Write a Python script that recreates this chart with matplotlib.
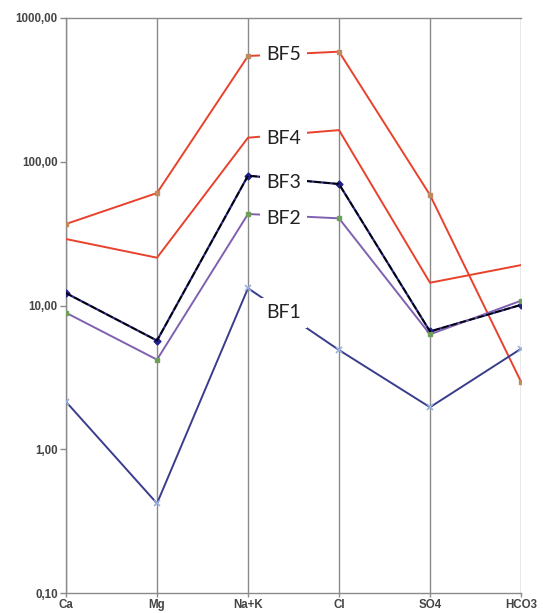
import matplotlib
matplotlib.use("Agg")
import matplotlib.pyplot as plt
from matplotlib.ticker import FixedLocator, FuncFormatter, NullLocator

# Ion concentrations (log scale) for the five samples
ions = ["Ca", "Mg", "Na+K", "Cl", "SO4", "HCO3"]
bf1 = [2.14, 0.42, 13.2, 4.9, 1.96, 5.0]
bf2 = [8.9, 4.2, 43.3, 40.4, 6.3, 10.8]
bf3 = [12.2, 5.7, 80.0, 70.0, 6.6, 10.1]
bf4 = [29.0, 21.5, 147.0, 166.0, 14.4, 19.1]
bf5 = [36.9, 60.6, 544.0, 583.0, 58.7, 2.95]
y_ticks = [0.1, 1, 10, 100, 1000]

# Series names and the height at which each name sits on the Na+K – Cl span
series_names = ["BF5", "BF4", "BF3", "BF2", "BF1"]
name_heights = [553, 146, 72, 40.6, 8.9]

x = list(range(len(ions)))

fig = plt.figure(figsize=(5.43, 6.13), dpi=100)
ax = fig.add_axes([66 / 543, 1 - 593 / 613, (521 - 66) / 543, (593 - 18) / 613])

grid_c = "#8a8a8a"
for xi in x:
    ax.axvline(xi, color=grid_c, lw=1.0, zorder=1)

red = "#e8422c"
ax.plot(x, bf5, color=red, lw=1.4, marker="s", ms=3.5, mfc="#c08a60", mec="#c08a60", zorder=3)
ax.plot(x, bf4, color=red, lw=1.4, zorder=3)
ax.plot(x, bf3, color="#2a2a80", lw=1.6, marker="D", ms=3.5, mfc="#20208a", mec="#20208a", zorder=3)
ax.plot(x, bf3, color="black", lw=1.2, ls=(0, (4, 1.5)), zorder=4)
ax.plot(x, bf2, color="#8060b0", lw=1.4, marker="s", ms=3, mfc="#70a058", mec="#70a058", zorder=3)
ax.plot(x, bf1, color="#3a3c8c", lw=1.4, marker="x", ms=4, mec="#9ab0dc", mew=1.2, zorder=3)

ax.set_yscale("log")
ax.set_ylim(0.1, 1000)
ax.set_xlim(0, len(ions) - 1)
ax.yaxis.set_major_locator(FixedLocator(y_ticks))
ax.yaxis.set_minor_locator(NullLocator())
ax.yaxis.set_major_formatter(FuncFormatter(lambda v, p: f"{v:.2f}".replace(".", ",")))
ax.set_xticks(x)
ax.set_xticklabels(ions)

for side in ["left", "bottom", "top"]:
    ax.spines[side].set_color(grid_c)
    ax.spines[side].set_linewidth(1.0)
ax.spines["right"].set_visible(False)

ax.tick_params(axis="y", length=4, width=1, color=grid_c, pad=2,
               labelsize=8.3, labelcolor="#444444")
ax.tick_params(axis="x", length=3, width=1, color=grid_c, pad=1,
               labelsize=8.3, labelcolor="#444444")
for lab in ax.get_xticklabels() + ax.get_yticklabels():
    lab.set_fontfamily("Liberation Sans")
    lab.set_fontweight("bold")

for name, yv in zip(series_names, name_heights):
    ax.text(2.39, yv, name, fontsize=14, family="Lato", color="#222222",
            ha="center", va="center", zorder=6,
            bbox=dict(boxstyle="square,pad=0.33", fc="white", ec="none"))

fig.savefig("out.png", dpi=100, facecolor="white")
